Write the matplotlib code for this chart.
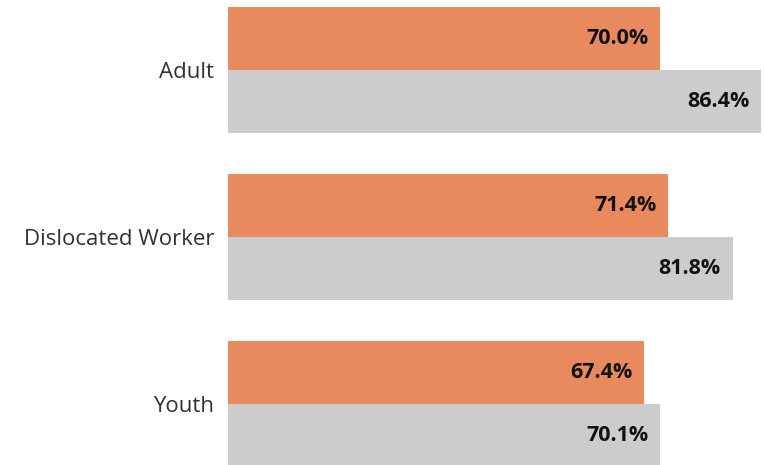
import matplotlib.pyplot as plt
import numpy as np

categories = ['Adult', 'Dislocated Worker', 'Youth']
orange_values = [70.0, 71.4, 67.4]
gray_values = [86.4, 81.8, 70.1]

plt.rcParams['font.family'] = ['Open Sans', 'DejaVu Sans']

fig = plt.figure(figsize=(7.64, 4.65), dpi=100)
ax = fig.add_axes([228 / 764, 0, 1 - 228 / 764, 1])

pos = np.arange(len(categories))
h = 63 / 167
ax.barh(pos - h / 2, orange_values, height=h, color='#E8895E')
ax.barh(pos + h / 2, gray_values, height=h, color='#CCCCCC')

# value labels inside the bar ends
for i in range(len(categories)):
    ax.text(orange_values[i] - 1.9, pos[i] - h / 2, f'{orange_values[i]:.1f}%',
            ha='right', va='center', fontsize=15.5, fontweight='bold', color='#111111')
    ax.text(gray_values[i] - 1.9, pos[i] + h / 2, f'{gray_values[i]:.1f}%',
            ha='right', va='center', fontsize=15.5, fontweight='bold', color='#111111')

ax.set_yticks(pos)
ax.set_yticklabels(categories, fontsize=16, color='#333333')
ax.tick_params(axis='y', length=0, pad=10)
ax.set_xticks([])
ax.set_xlim(0, 86.9)
ax.set_ylim((465 - 70) / 167, -70 / 167)
for s in ax.spines.values():
    s.set_visible(False)

fig.savefig('out.png', dpi=100)
